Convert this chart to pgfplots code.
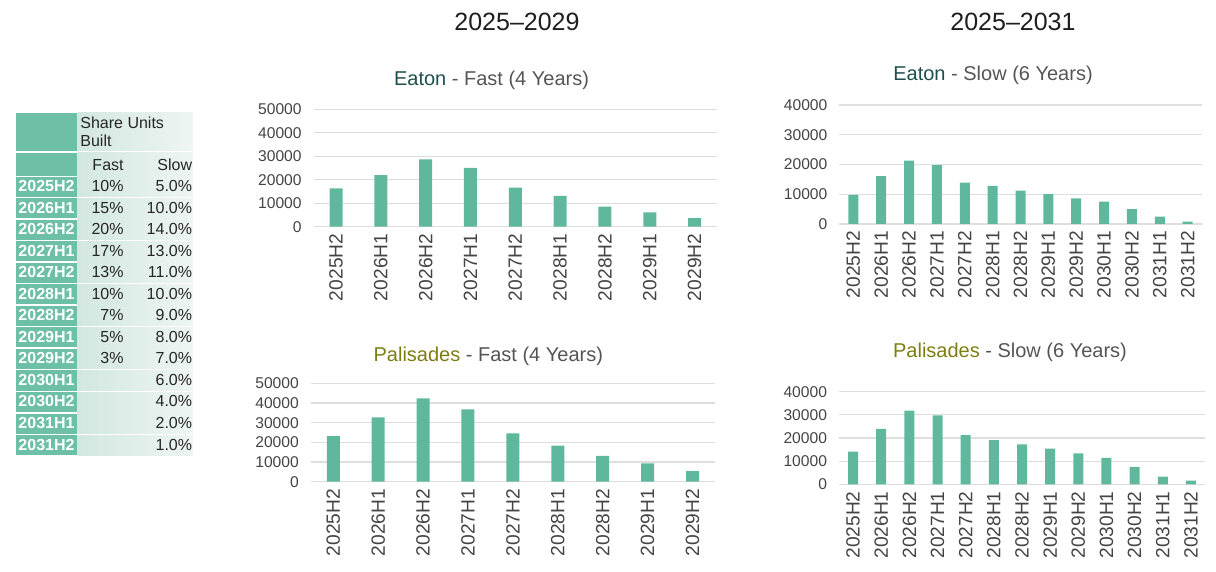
\documentclass[border=0pt]{standalone}
\usepackage{pgfplots}
\pgfplotsset{compat=1.18}
\usepackage{fontspec}
\setmainfont{Liberation Sans}

\definecolor{barc}{HTML}{5FB89E}
\definecolor{tealc}{HTML}{6DBFA8}
\definecolor{cellL}{HTML}{D2E7E0}
\definecolor{cellR}{HTML}{EEF5F2}
\definecolor{eaton}{HTML}{1F4F4C}
\definecolor{pal}{HTML}{7D7D12}
\definecolor{ttl}{HTML}{555555}
\definecolor{tick}{HTML}{444444}
\definecolor{grd}{HTML}{DEDEDE}

\pgfplotsset{
  panel/.style={
    scale only axis, anchor=south west, ybar, bar width=#1,
    ymin=0, xmin=-0.5, enlargelimits=false, clip=false,
    axis line style={draw=none}, major tick length=0,
    ymajorgrids, grid style={grd, line width=0.6pt},
    ytick distance=10000, xtick=data, scaled y ticks=false,
    yticklabel style={font=\fontsize{7.8}{8}\selectfont, text=tick, xshift=-2.5pt,
      /pgf/number format/1000 sep={}, /pgf/number format/assume math mode=true},
    xticklabel style={font=\fontsize{9.6}{10}\selectfont, rotate=90, anchor=east, text=tick},
  },
  fast/.style={xmax=8.5, ymax=50000,
    xticklabels={2025H2,2026H1,2026H2,2027H1,2027H2,2028H1,2028H2,2029H1,2029H2}},
  slow/.style={xmax=12.5, ymax=40000,
    xticklabels={2025H2,2026H1,2026H2,2027H1,2027H2,2028H1,2028H2,2029H1,2029H2,2030H1,2030H2,2031H1,2031H2}},
}

\begin{document}
\begin{tikzpicture}
\path[use as bounding box] (0,0) rectangle (608pt,-286pt);

% Eaton fast
\begin{axis}[panel=6.5pt, fast, at={(156.8pt,-113.35pt)}, width=201.7pt, height=58.7pt]
\addplot[fill=barc, draw=none] coordinates {
  (0,16300) (1,22000) (2,28700) (3,25100) (4,16600) (5,13100) (6,8500) (7,6100) (8,3700)};
\end{axis}

% Eaton slow
\begin{axis}[panel=5pt, slow, at={(419.7pt,-112pt)}, width=181.1pt, height=59.5pt]
\addplot[fill=barc, draw=none] coordinates {
  (0,9750) (1,16100) (2,21300) (3,19800) (4,13900) (5,12800) (6,11200)
  (7,10000) (8,8600) (9,7500) (10,5000) (11,2500) (12,800)};
\end{axis}

% Palisades fast
\begin{axis}[panel=6.5pt, fast, at={(155.4pt,-240.85pt)}, width=202.1pt, height=49.2pt]
\addplot[fill=barc, draw=none] coordinates {
  (0,23200) (1,32700) (2,42400) (3,36800) (4,24600) (5,18300) (6,13100) (7,9300) (8,5400)};
\end{axis}

% Palisades slow
\begin{axis}[panel=5pt, slow, at={(419.5pt,-242.15pt)}, width=183pt, height=46.3pt]
\addplot[fill=barc, draw=none] coordinates {
  (0,14100) (1,23900) (2,31800) (3,29800) (4,21200) (5,19100) (6,17300)
  (7,15400) (8,13400) (9,11400) (10,7500) (11,3300) (12,1600)};
\end{axis}

\begin{scope}[x=0.5pt, y=-0.5pt]
  % section titles
  \node[font=\fontsize{12.5}{14}\selectfont, text=black!88] at (517,22) {2025–2029};
  \node[font=\fontsize{12.5}{14}\selectfont, text=black!88] at (1013,22) {2025–2031};
  % panel titles
  \node[font=\fontsize{10}{12}\selectfont, text=ttl] at (491.5,80) {{\color{eaton}Eaton} - Fast (4 Years)};
  \node[font=\fontsize{10}{12}\selectfont, text=ttl] at (993,75) {{\color{eaton}Eaton} - Slow (6 Years)};
  \node[font=\fontsize{10}{12}\selectfont, text=ttl] at (488.3,356) {{\color{pal}Palisades} - Fast (4 Years)};
  \node[font=\fontsize{10}{12}\selectfont, text=ttl] at (1010,352) {{\color{pal}Palisades} - Slow (6 Years)};

  % share table
  \fill[tealc] (16,113) rectangle (77,151);
  \shade[left color=cellL, right color=cellR] (77,113) rectangle (193,151);
  \fill[tealc] (16,153) rectangle (77,176);
  \shade[left color=cellL, right color=cellR] (77,153) rectangle (193,176);
  \node[anchor=north west, align=left, inner sep=0, font=\fontsize{8}{9}\selectfont, text=black!85] at (80,117) {Share Units\\Built};
  \node[anchor=base east, inner sep=0, font=\fontsize{8}{9}\selectfont, text=black!85] at (124,171) {Fast};
  \node[anchor=base east, inner sep=0, font=\fontsize{8}{9}\selectfont, text=black!85] at (192.5,171) {Slow};
  \foreach \lab/\f/\s [count=\i from 0] in {
      2025H2/10\%/5.0\%, 2026H1/15\%/10.0\%, 2026H2/20\%/14.0\%, 2027H1/17\%/13.0\%,
      2027H2/13\%/11.0\%, 2028H1/10\%/10.0\%, 2028H2/7\%/9.0\%, 2029H1/5\%/8.0\%,
      2029H2/3\%/7.0\%, 2030H1/{}/6.0\%, 2030H2/{}/4.0\%, 2031H1/{}/2.0\%, 2031H2/{}/1.0\%} {
    \pgfmathsetmacro\top{177+21.5*\i}
    \fill[tealc] (16,\top) rectangle (77,\top+20);
    \shade[left color=cellL, right color=cellR] (77,\top) rectangle (193,\top+20);
    \node[anchor=base, inner sep=0, font=\bfseries\fontsize{8}{9}\selectfont, text=white] at (46.5,\top+15) {\lab};
    \node[anchor=base east, inner sep=0, font=\fontsize{8}{9}\selectfont, text=black!85] at (124,\top+15) {\f};
    \node[anchor=base east, inner sep=0, font=\fontsize{8}{9}\selectfont, text=black!85] at (192.5,\top+15) {\s};
  }
\end{scope}
\end{tikzpicture}
\end{document}
